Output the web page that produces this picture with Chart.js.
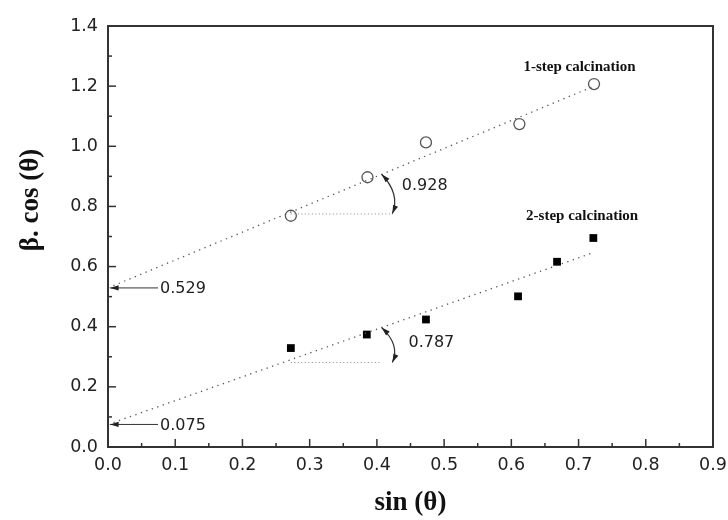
<!DOCTYPE html>
<html>
<head>
<meta charset="utf-8">
<script src="https://cdn.jsdelivr.net/npm/chart.js@4.4.1/dist/chart.umd.min.js"></script>
<style>
  html, body { margin: 0; padding: 0; background: #fff; }
  #wrap { width: 728px; height: 520px; }
</style>
</head>
<body>
<div id="wrap"><canvas id="wh"></canvas></div>
<script>
// values
const sinOne = [0.272, 0.386, 0.473, 0.612, 0.723];
const bcosOne = [0.769, 0.897, 1.013, 1.074, 1.207];
const sinTwo = [0.272, 0.385, 0.473, 0.610, 0.668, 0.722];
const bcosTwo = [0.329, 0.374, 0.424, 0.501, 0.616, 0.695];

// fitted lines: intercept at x = 0 and end point
const fitOneX = [0, 0.72];
const fitOneY = [0.529, 1.197];
const fitTwoX = [0, 0.72];
const fitTwoY = [0.075, 0.645];

// horizontal helper lines for slope angle
const horizOneX = [0.272, 0.424];
const horizOneY = [0.775, 0.775];
const horizTwoX = [0.272, 0.407];
const horizTwoY = [0.281, 0.281];

const xTicks = [0, 0.1, 0.2, 0.3, 0.4, 0.5, 0.6, 0.7, 0.8, 0.9];
const yTicks = [0, 0.2, 0.4, 0.6, 0.8, 1.0, 1.2, 1.4];

const pts = (xs, ys) => xs.map((x, i) => ({ x: x, y: ys[i] }));

const dotted = {
  showLine: true, pointRadius: 0, borderWidth: 1.3,
  borderColor: "#555", borderDash: [1.3, 4.5], fill: false
};

const tickFont = { family: "DejaVu Sans", size: 17.5 };

function arrowHead(ctx, x, y, ang, len) {
  ctx.beginPath();
  ctx.moveTo(x, y);
  ctx.lineTo(x - len * Math.cos(ang - 0.3), y - len * Math.sin(ang - 0.3));
  ctx.lineTo(x - len * Math.cos(ang + 0.3), y - len * Math.sin(ang + 0.3));
  ctx.closePath();
  ctx.fill();
}

const decor = {
  id: "decor",
  afterDraw(chart) {
    const ctx = chart.ctx;
    const xs = chart.scales.x, ys = chart.scales.y;
    const a = chart.chartArea;
    const X = v => xs.getPixelForValue(v), Y = v => ys.getPixelForValue(v);
    ctx.save();
    ctx.strokeStyle = "#333";
    ctx.fillStyle = "#222";
    ctx.lineWidth = 2;
    // frame
    ctx.strokeRect(a.left, a.top, a.right - a.left, a.bottom - a.top);
    // inner ticks
    ctx.lineWidth = 1.5;
    for (let i = 0; i <= 18; i++) {
      const v = i * 0.05, px = X(v), len = i % 2 === 0 ? 8 : 4;
      ctx.beginPath(); ctx.moveTo(px, a.bottom); ctx.lineTo(px, a.bottom - len); ctx.stroke();
    }
    for (let i = 0; i <= 14; i++) {
      const v = i * 0.1, py = Y(v), len = i % 2 === 0 ? 8 : 4;
      ctx.beginPath(); ctx.moveTo(a.left, py); ctx.lineTo(a.left + len, py); ctx.stroke();
    }
    // intercept arrows
    ctx.lineWidth = 1;
    ctx.font = "16px DejaVu Sans";
    ctx.textBaseline = "middle";
    [[0.529, "0.529"], [0.075, "0.075"]].forEach(([v, t]) => {
      const py = Y(v);
      ctx.beginPath(); ctx.moveTo(a.left + 2, py); ctx.lineTo(a.left + 50, py); ctx.stroke();
      arrowHead(ctx, a.left + 2, py, Math.PI, 9);
      ctx.fillText(t, a.left + 52, py + 1);
    });
    // slope arrows and labels
    [[0.407, 0.907, 0.776, "0.928", 0.437, 0.867], [0.407, 0.397, 0.281, "0.787", 0.447, 0.345]].forEach(([xv, y1, y2, t, tx, ty]) => {
      const x1 = X(xv), p1 = Y(y1), p2 = Y(y2);
      const x2 = X(0.423), cx = x2 + 8, cy = (p1 + p2) / 2;
      ctx.lineWidth = 1.2;
      ctx.beginPath();
      ctx.moveTo(x1, p1);
      ctx.quadraticCurveTo(cx, cy, x2, p2);
      ctx.stroke();
      arrowHead(ctx, x1, p1, Math.atan2(p1 - cy, x1 - cx), 9);
      arrowHead(ctx, x2, p2, Math.atan2(p2 - cy, x2 - cx), 9);
      ctx.font = "16px DejaVu Sans";
      ctx.fillText(t, X(tx), Y(ty));
    });
    // series labels
    ctx.font = "bold 15px 'Liberation Serif'";
    ctx.fillStyle = "#111";
    ctx.fillText("1-step calcination", X(0.618), Y(1.263));
    ctx.fillText("2-step calcination", X(0.622), Y(0.769));
    // axis titles
    ctx.font = "bold 27px 'Liberation Serif'";
    ctx.textAlign = "center";
    ctx.fillText("sin (\u03b8)", (a.left + a.right) / 2, 503);
    ctx.translate(31, 200);
    ctx.rotate(-Math.PI / 2);
    ctx.fillText("\u03b2. cos (\u03b8)", 0, 0);
    ctx.restore();
  }
};

new Chart(document.getElementById("wh"), {
  type: "scatter",
  data: {
    datasets: [
      Object.assign({ data: pts(fitOneX, fitOneY) }, dotted),
      Object.assign({ data: pts(fitTwoX, fitTwoY) }, dotted),
      Object.assign({ data: pts(horizOneX, horizOneY) }, dotted, { borderColor: "#888", borderDash: [1, 2.5], borderWidth: 1 }),
      Object.assign({ data: pts(horizTwoX, horizTwoY) }, dotted, { borderColor: "#888", borderDash: [1, 2.5], borderWidth: 1 }),
      {
        data: pts(sinOne, bcosOne), pointStyle: "circle", pointRadius: 5.5,
        pointBackgroundColor: "#fff", pointBorderColor: "#555", pointBorderWidth: 1.3
      },
      {
        data: pts(sinTwo, bcosTwo), pointStyle: "rect", pointRadius: 5.5,
        pointBackgroundColor: "#000", pointBorderColor: "#000", pointBorderWidth: 0
      }
    ]
  },
  options: {
    responsive: true,
    maintainAspectRatio: false,
    animation: false,
    layout: { padding: { top: 26, right: 15, left: 0, bottom: 0 } },
    plugins: { legend: { display: false }, tooltip: { enabled: false } },
    scales: {
      x: {
        type: "linear", min: 0, max: 0.9,
        afterFit: s => { s.height = 73; s.paddingRight = 0; s.paddingLeft = 0; },
        afterBuildTicks: s => { s.ticks = xTicks.map(v => ({ value: v })); },
        grid: { display: false, drawTicks: false },
        border: { display: false },
        ticks: { color: "#222", font: tickFont, padding: 8, maxRotation: 0, callback: v => v.toFixed(1) }
      },
      y: {
        type: "linear", min: 0, max: 1.4,
        afterFit: s => { s.width = 108; s.paddingTop = 0; s.paddingBottom = 0; },
        afterBuildTicks: s => { s.ticks = yTicks.map(v => ({ value: v })); },
        grid: { display: false, drawTicks: false },
        border: { display: false },
        ticks: { color: "#222", font: tickFont, padding: 10, callback: v => v.toFixed(1) }
      }
    }
  },
  plugins: [decor]
});
</script>
</body>
</html>
